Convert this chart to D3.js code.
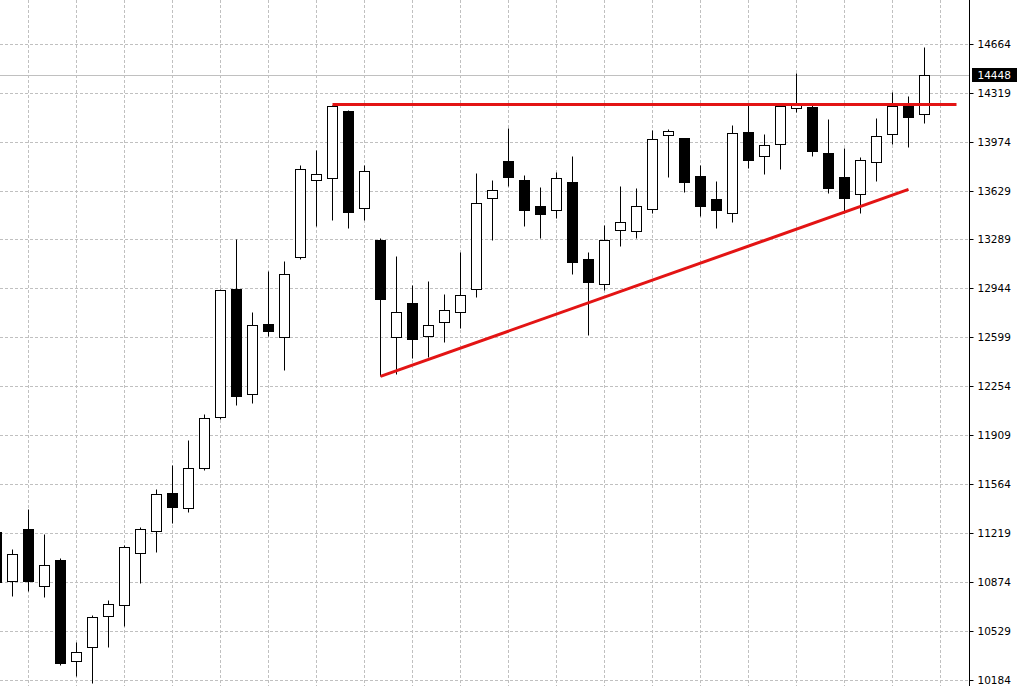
<!DOCTYPE html>
<html>
<head>
<meta charset="utf-8">
<script src="https://cdn.jsdelivr.net/npm/d3@7"></script>
<style>
  html, body { margin: 0; padding: 0; background: #fff; }
  svg { display: block; }
</style>
</head>
<body>
<svg id="chart" width="1025" height="686"></svg>
<script>
// ---- data ----
const openVals  = [11230,10881,11249,10846,11031,10318,10416,10635,10709,11078,11233,11501,11395,11677,12036,12937,12202,12693,12603,13162,13704,13718,14192,13507,13284,12599,12838,12606,12705,12775,12937,13582,13840,13706,13523,13493,13692,13150,12972,13352,13345,13500,14021,14002,13735,13571,13472,14044,13873,13958,14213,14222,13894,13728,13610,13831,14028,14225,14169];
const highVals  = [11277,11108,11390,11214,11045,10454,10644,10749,11134,11263,11529,11700,11876,12057,12937,13289,12777,13066,13136,13812,13918,14232,14199,13810,13296,13171,12965,12993,12904,13197,13756,13706,14075,13742,13657,13763,13875,13197,13390,13664,13650,14058,14066,14005,13812,13699,14094,14247,14030,14240,14458,14235,14136,13934,13868,14143,14324,14298,14645];
const lowVals   = [10820,10773,10808,10768,10290,10214,10161,10414,10561,10867,11089,11289,11367,11665,12022,12122,12138,12610,12369,13148,13383,13427,13365,13425,12326,12341,12451,12462,12568,12660,12885,13284,13664,13385,13300,13441,13045,12615,12932,13242,13300,13472,13725,13624,13455,13371,13413,13793,13751,13782,14187,13878,13617,13472,13476,13702,13962,13941,14110];
const closeVals = [10871,11073,10878,10994,10301,10381,10630,10719,11120,11247,11494,11406,11677,12029,12930,12188,12683,12643,13042,13782,13747,14227,13483,13768,12871,12775,12585,12683,12789,12895,13542,13634,13730,13497,13469,13718,13131,12990,13284,13411,13521,13993,14051,13694,13525,13497,14035,13845,13951,14225,14235,13913,13652,13582,13845,14014,14225,14152,14448];

const priceTicks = [14664,14319,13974,13629,13289,12944,12599,12254,11909,11564,11219,10874,10529,10184];
const gridIndex = d3.range(2, 60, 3);
const lastPrice = 14448;

// trend lines (index, price)
const resistanceLine = [{i: 21, v: 14242}, {i: 60, v: 14242}];
const supportLine    = [{i: 24, v: 12326}, {i: 57, v: 13643}];

// ---- layout ----
const W = 1025, H = 686, plotRight = 969.5;
const svg = d3.select("#chart");
svg.append("rect").attr("width", W).attr("height", H).attr("fill", "#fff");

const x = d3.scaleLinear().domain([0, 60]).range([-3.5, 956.5]);
const y = d3.scaleLinear().domain([10184, 14664]).range([680.5, 44.5]);
const py = v => Math.floor(y(v)) + 0.5;

svg.append("defs").append("clipPath").attr("id", "plot")
  .append("rect").attr("x", 0).attr("y", 0).attr("width", 969).attr("height", H);

const plot = svg.append("g").attr("clip-path", "url(#plot)");

// grid
plot.append("g").selectAll("line").data(priceTicks).join("line")
  .attr("x1", 0).attr("x2", 969).attr("y1", d => py(d)).attr("y2", d => py(d))
  .attr("stroke", "#c0c0c0").attr("stroke-width", 1).attr("stroke-dasharray", "3,2");
plot.append("g").selectAll("line").data(gridIndex).join("line")
  .attr("x1", d => x(d)).attr("x2", d => x(d)).attr("y1", 0).attr("y2", H)
  .attr("stroke", "#c0c0c0").attr("stroke-width", 1).attr("stroke-dasharray", "3,2");

// current price line
plot.append("line")
  .attr("x1", 0).attr("x2", 969).attr("y1", py(lastPrice)).attr("y2", py(lastPrice))
  .attr("stroke", "#c0c0c0").attr("stroke-width", 1);

// candles
const candles = openVals.map((o, i) => ({i, o, h: highVals[i], l: lowVals[i], c: closeVals[i]}));
const cg = plot.append("g").selectAll("g").data(candles).join("g");
cg.append("line")
  .attr("x1", d => x(d.i)).attr("x2", d => x(d.i))
  .attr("y1", d => py(d.h)).attr("y2", d => py(d.l))
  .attr("stroke", "#000").attr("stroke-width", 1);
cg.append("rect")
  .attr("x", d => x(d.i) - 5)
  .attr("width", 10)
  .attr("y", d => py(Math.max(d.o, d.c)))
  .attr("height", d => Math.max(1, py(Math.min(d.o, d.c)) - py(Math.max(d.o, d.c))))
  .attr("fill", d => d.c >= d.o ? "#fff" : "#000")
  .attr("stroke", "#000").attr("stroke-width", 1);

// trend lines
const tl = d3.line().x(d => x(d.i)).y(d => y(d.v));
plot.append("path").datum(resistanceLine).attr("d", tl)
  .attr("fill", "none").attr("stroke", "#e31414").attr("stroke-width", 3);
plot.append("path").datum(supportLine).attr("d", tl)
  .attr("fill", "none").attr("stroke", "#e31414").attr("stroke-width", 3);

// right axis
svg.append("line").attr("x1", plotRight).attr("x2", plotRight).attr("y1", 0).attr("y2", H)
  .attr("stroke", "#000").attr("stroke-width", 1);
const axis = d3.axisRight(y).tickValues(priceTicks).tickSize(4).tickPadding(4).tickFormat(d3.format("d"));
const ag = svg.append("g").attr("transform", `translate(${plotRight},0)`).call(axis);
ag.select(".domain").remove();
ag.selectAll(".tick").attr("transform", d => `translate(0,${py(d)})`);
ag.selectAll(".tick line").attr("stroke", "#000");
ag.selectAll(".tick text")
  .attr("font-family", "DejaVu Sans, Verdana, sans-serif")
  .attr("font-size", "10.5px").attr("fill", "#000");

// last price label
const lp = svg.append("g").attr("transform", `translate(0,${py(lastPrice)})`);
lp.append("rect").attr("x", 972).attr("y", -7.5).attr("width", 45).attr("height", 14).attr("fill", "#000");
lp.append("text").attr("x", 977.5).attr("dy", "0.32em").text(d3.format("d")(lastPrice))
  .attr("font-family", "DejaVu Sans, Verdana, sans-serif")
  .attr("font-size", "10.5px").attr("fill", "#fff");
</script>
</body>
</html>
